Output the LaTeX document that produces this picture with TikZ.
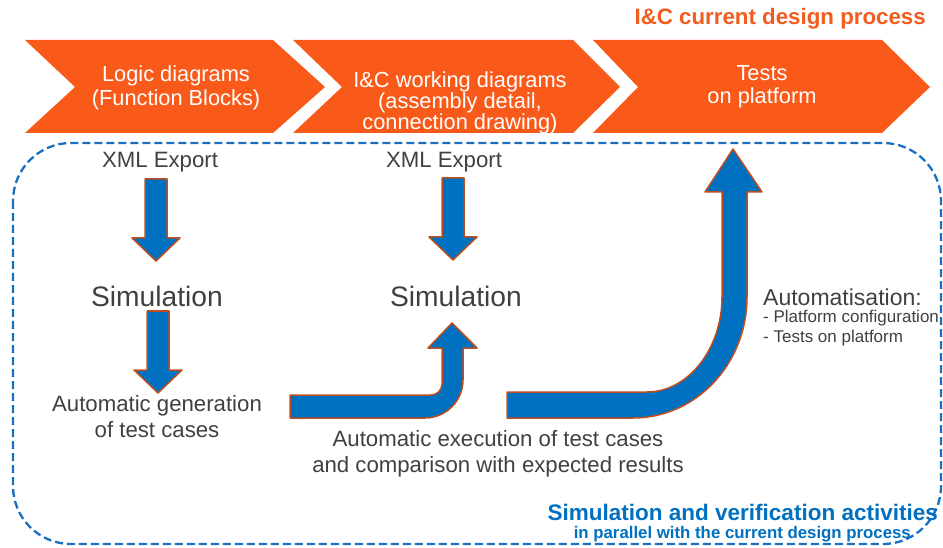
\documentclass[tikz,border=0pt]{standalone}
\usepackage{fontspec}
\setmainfont{Liberation Sans}
\definecolor{chevfill}{RGB}{250,90,25}
\definecolor{titleorange}{RGB}{242,92,30}
\definecolor{flowblue}{RGB}{0,112,192}
\definecolor{rimbrown}{RGB}{190,78,32}
\definecolor{textgray}{RGB}{64,64,64}
\definecolor{boxblue}{RGB}{25,112,192}
\newcommand{\fsz}[2]{\fontsize{#1}{#2}\selectfont}
\tikzset{
  chev/.style={fill=chevfill, draw=none},
  fatarrow/.style={fill=flowblue, draw=rimbrown, line width=1.5pt, line join=round},
  dashbox/.style={draw=boxblue, line width=2.3pt, dash pattern=on 8pt off 4pt, rounded corners=58pt},
  chevtext/.style={text=white, align=center, inner sep=0pt, font=\fsz{21.8}{23.5}},
  graytext/.style={text=textgray, align=center, inner sep=0pt, font=\fsz{22.2}{26}},
  simtext/.style={text=textgray, inner sep=0pt, font=\fsz{28.2}{30}},
  downarr/.pic={
    \draw[fatarrow] (-11,0) -- (11,0) -- (11,59) -- (24,59) -- (0,82)
      -- (-24,59) -- (-11,59) -- cycle;
  }
}
\begin{document}
\begin{tikzpicture}[x=1pt, y=-1pt]
\useasboundingbox (0,0) rectangle (943,548);

% process chevrons
\fill[chev] (25,40) -- (273,40) -- (325,87) -- (273,133) -- (25,133) -- (75,87) -- cycle;
\fill[chev] (293,40) -- (573,40) -- (620,87) -- (573,133) -- (293,133) -- (342,87) -- cycle;
\fill[chev] (593,40) -- (882,40) -- (930,87) -- (882,133) -- (593,133) -- (638,87) -- cycle;

\node[anchor=east, inner sep=0pt, text=titleorange, font=\fsz{22.3}{24}\bfseries]
  (title) at (926,19) {I\&C current design process};

\node[chevtext] (logic) at (176,88) {Logic diagrams\\(Function Blocks)};
\node[chevtext, font=\fsz{21.8}{21}] (working) at (460,103) {I\&C working diagrams\\(assembly detail,\\connection drawing)};
\node[chevtext] (tests) at (762,87) {Tests\\on platform};

% dashed frame of the simulation activities
\draw[dashbox] (13,143) rectangle (941,544);

% left column
\node[graytext] (xml1) at (160,162) {XML Export};
\pic at (156,179) {downarr};
\node[simtext] (sim1) at (157,296) {Simulation};
\pic at (158,311) {downarr};
\node[graytext] (gen) at (157,417) {Automatic generation\\of test cases};

% middle column
\node[graytext] (xml2) at (444,162) {XML Export};
\pic at (453,178) {downarr};
\node[simtext] (sim2) at (456,296) {Simulation};

% bent arrow back to the simulation
\draw[fatarrow] (290,395) -- (431,395) .. controls (437,395) and (442,390) .. (442,384)
  -- (442,348) -- (428,348) -- (452,323) -- (477,348) -- (463,348) -- (463,380)
  .. controls (463,401) and (446,418) .. (425,418) -- (290,418) -- cycle;

% large arrow up to the tests on platform
\draw[fatarrow] (507,392) -- (647,392) .. controls (688,392) and (722,349) .. (722,297)
  -- (722,192) -- (705,192) -- (733,149) -- (762,192) -- (747,192) -- (747,297)
  .. controls (747,364) and (696,418) .. (633,418) -- (507,418) -- cycle;

\node[graytext] (exec) at (498,454) {Automatic execution of test cases\\and comparison with expected results};

% automatisation notes
\node[anchor=west, inner sep=0pt, text=textgray, font=\fsz{23}{26}] (auto) at (763,297) {Automatisation:};
\node[anchor=north west, inner sep=0pt, text=textgray, align=left, font=\fsz{17}{20}]
  (autolist) at (763,310) {- Platform configuration\\- Tests on platform};

% caption of the frame
\node[anchor=east, inner sep=0pt, text=flowblue, font=\fsz{22.5}{24}\bfseries]
  (cap1) at (938,512) {Simulation and verification activities};
\node[anchor=east, inner sep=0pt, text=flowblue, font=\fsz{16.8}{18}\bfseries]
  (cap2) at (911,534) {in parallel with the current design process};
\end{tikzpicture}
\end{document}
